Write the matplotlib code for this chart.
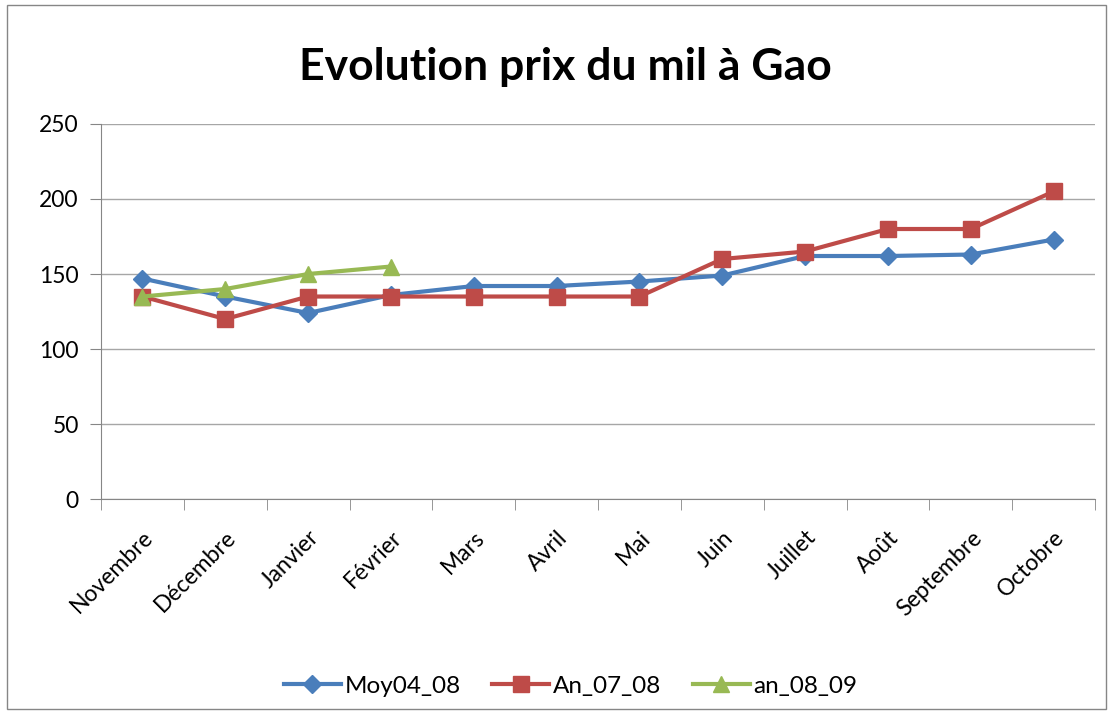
import numpy as np
import matplotlib.pyplot as plt
from matplotlib.patches import Rectangle

# données
mois = ['Novembre', 'Décembre', 'Janvier', 'Février', 'Mars', 'Avril',
        'Mai', 'Juin', 'Juillet', 'Août', 'Septembre', 'Octobre']
moy04_08 = [147, 135, 124, 136, 142, 142, 145, 149, 162, 162, 163, 173]
an_07_08 = [135, 120, 135, 135, 135, 135, 135, 160, 165, 180, 180, 205]
an_08_09 = [135, 140, 150, 155]

plt.rcParams['font.family'] = ['Lato', 'DejaVu Sans']

fig = plt.figure(figsize=(11.1, 7.15), dpi=100)
ax = fig.add_axes([0.091, 0.302, 0.8955, 0.5246])

x = np.arange(len(mois))
ax.plot(x, moy04_08, color='#4a7ebb', lw=3, marker='D', ms=9, label='Moy04_08')
ax.plot(x, an_07_08, color='#be4b48', lw=3, marker='s', ms=12, label='An_07_08')
ax.plot(x[:len(an_08_09)], an_08_09, color='#98b954', lw=3, marker='^', ms=12, label='an_08_09')

ax.set_xlim(-0.5, len(mois) - 0.5)
ax.set_ylim(0, 250)
ax.set_yticks(range(0, 251, 50))
ax.yaxis.grid(True, color='#a6a6a6', lw=1)
ax.set_axisbelow(True)

ax.set_xticks(x)
ax.set_xticklabels(mois, rotation=45, ha='right', rotation_mode='anchor', fontsize=16.5)
ax.set_xticks(np.arange(-0.5, len(mois), 1), minor=True)
ax.tick_params(axis='x', which='major', length=0, pad=20)
ax.tick_params(axis='x', which='minor', length=8, color='#868686')
ax.tick_params(axis='y', length=8, color='#868686', labelsize=16.5, pad=8)

for s in ['top', 'right']:
    ax.spines[s].set_visible(False)
for s in ['left', 'bottom']:
    ax.spines[s].set_color('#868686')

fig.text(0.509, 0.906, 'Evolution prix du mil à Gao', ha='center', va='center',
         fontsize=32, fontweight='bold')

fig.legend(loc='center', bbox_to_anchor=(0.514, 0.04), ncol=3, frameon=False,
           fontsize=17.5, handlelength=2.35, columnspacing=1.3, handletextpad=0.15)

fig.patches.append(Rectangle((0.006, 0.008), 0.99, 0.985, transform=fig.transFigure,
                             fill=False, edgecolor='#868686', lw=1))

fig.savefig('out.png', dpi=100)
